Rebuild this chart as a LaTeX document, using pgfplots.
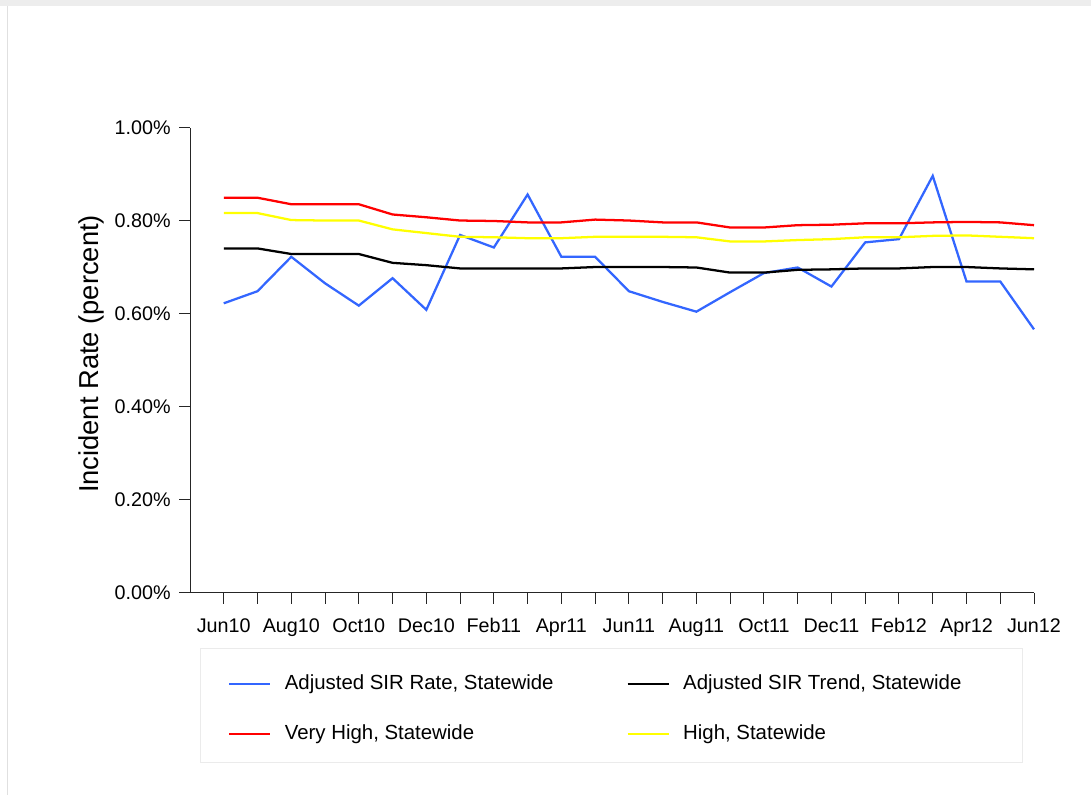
\documentclass[border=0pt]{standalone}
\usepackage{pgfplots}
\pgfplotsset{compat=1.18}
\usepackage{pgfplotstable}
\usepackage{fontspec}
\setmainfont{Liberation Sans}
\definecolor{sirblue}{RGB}{51,102,255}
\definecolor{sirred}{RGB}{255,0,0}
\definecolor{siryellow}{RGB}{255,255,0}

\pgfplotstableread{
i rate trend veryhigh high
0 0.623 0.741 0.850 0.817
1 0.649 0.741 0.850 0.817
2 0.723 0.729 0.836 0.802
3 0.666 0.729 0.836 0.801
4 0.618 0.729 0.836 0.801
5 0.677 0.710 0.814 0.782
6 0.609 0.705 0.808 0.774
7 0.770 0.698 0.801 0.766
8 0.743 0.698 0.800 0.765
9 0.857 0.698 0.797 0.763
10 0.723 0.698 0.797 0.763
11 0.723 0.701 0.803 0.766
12 0.649 0.701 0.801 0.766
13 0.626 0.701 0.797 0.766
14 0.605 0.700 0.797 0.765
15 0.647 0.689 0.786 0.756
16 0.688 0.689 0.786 0.756
17 0.700 0.695 0.791 0.759
18 0.659 0.696 0.792 0.761
19 0.754 0.698 0.795 0.765
20 0.761 0.698 0.795 0.765
21 0.897 0.701 0.797 0.768
22 0.670 0.701 0.798 0.769
23 0.670 0.698 0.797 0.766
24 0.567 0.696 0.791 0.763
}\datatable

\begin{document}
\begin{tikzpicture}
\path[use as bounding box] (0,0) rectangle (818.25pt,596.25pt);
\fill[black!7] (0,591.75pt) rectangle (818.25pt,596.25pt);
\draw[black!12, line width=0.75pt] (5.25pt,0) -- (5.25pt,591.75pt);
\draw[black!8, line width=0.75pt] (150pt,24pt) rectangle (766.5pt,109.5pt);
\begin{axis}[
  at={(142.5pt,151.5pt)}, anchor=south west,
  scale only axis, width=633pt, height=348.75pt,
  xmin=-1, xmax=24, ymin=0, ymax=1,
  axis lines=left, axis line style={-, black!85, line width=0.75pt},
  tick align=outside, major tick length=8pt, minor tick length=8pt,
  tick style={black!85, line width=0.75pt},
  xtick={0,2,...,24}, minor xtick={1,3,...,23},
  xticklabels={Jun10,Aug10,Oct10,Dec10,Feb11,Apr11,Jun11,Aug11,Oct11,Dec11,Feb12,Apr12,Jun12},
  ytick={0,0.2,0.4,0.6,0.8,1},
  yticklabels={0.00\%,0.20\%,0.40\%,0.60\%,0.80\%,1.00\%},
  ticklabel style={font=\fontsize{14.8pt}{17pt}\selectfont, black},
  xticklabel style={text height=11pt, text depth=3.5pt, yshift=-7pt},
  yticklabel style={xshift=-3pt},
  ylabel={Incident Rate (percent)},
  every axis y label/.style={at={(rel axis cs:0,0.5)}, xshift=-74.25pt, yshift=4.9pt, rotate=90, anchor=center, font=\fontsize{20.5pt}{24pt}\selectfont},
  legend columns=2,
  legend style={at={(rel axis cs:0.045,-0.2495)}, anchor=west, draw=none, fill=none,
    inner sep=0pt, font=\fontsize{15.3pt}{18pt}\selectfont,
    nodes={inner sep=0pt, text height=11pt, text depth=3.5pt},
    row sep=23pt,
    /tikz/every odd column/.append style={column sep=10pt},
    /tikz/every even column/.append style={column sep=54.75pt}},
  legend cell align=left,
  legend image code/.code={\draw[#1] (0pt,0pt) -- (30.75pt,0pt);},
  clip=false,
]
\addplot[sirblue, line width=1.7pt] table[x=i, y=rate] {\datatable};
\addlegendentry{Adjusted SIR Rate, Statewide}
\addplot[black, line width=1.7pt] table[x=i, y=trend] {\datatable};
\addlegendentry{Adjusted SIR Trend, Statewide}
\addplot[sirred, line width=1.7pt] table[x=i, y=veryhigh] {\datatable};
\addlegendentry{Very High, Statewide}
\addplot[siryellow, line width=1.7pt] table[x=i, y=high] {\datatable};
\addlegendentry{High, Statewide}
\end{axis}
\end{tikzpicture}
\end{document}
